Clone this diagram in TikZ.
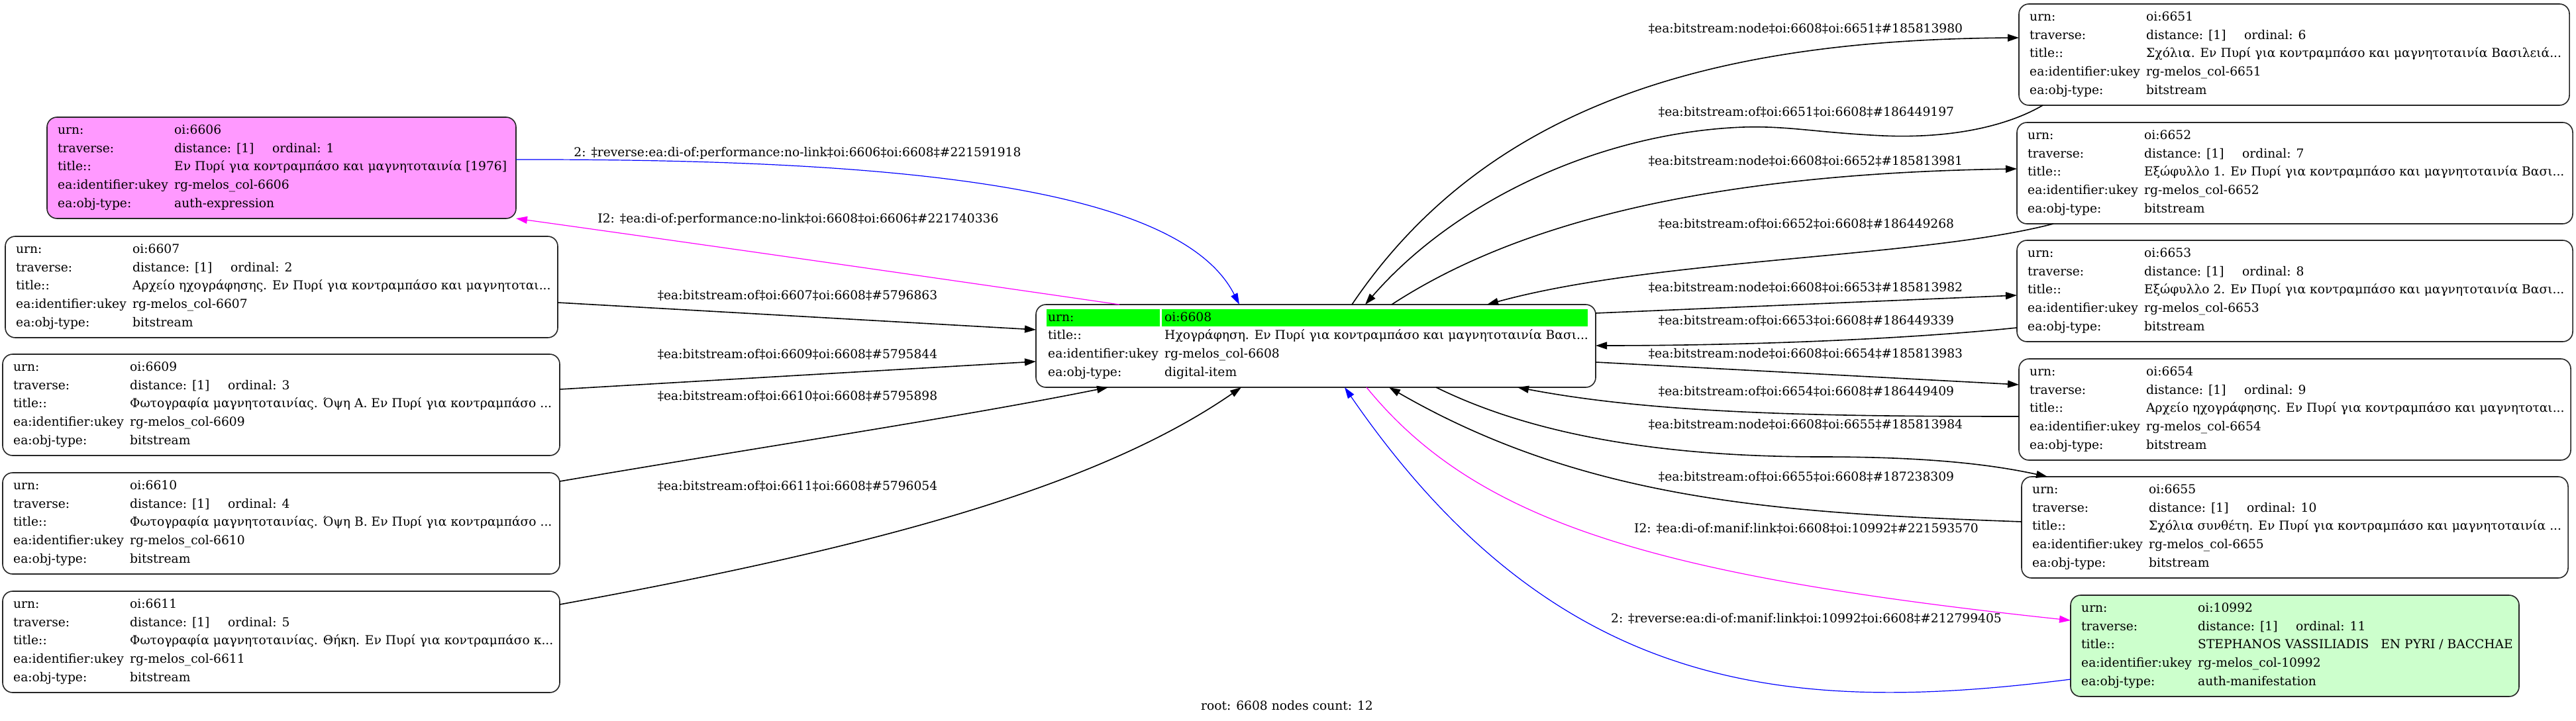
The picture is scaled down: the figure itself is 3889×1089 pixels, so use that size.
\documentclass[tikz,border=0pt]{standalone}
\usepackage{fontspec}
\setmainfont{DejaVu Serif}
\usetikzlibrary{arrows.meta}
\definecolor{pinkfill}{HTML}{FF99FF}
\definecolor{greenfill}{HTML}{CCFFCC}
\definecolor{hilite}{HTML}{00FF00}
\definecolor{mag}{HTML}{FF00FF}
\definecolor{blu}{HTML}{0000FF}
\tikzset{
 ebox/.style={draw=black!85, line width=1.6pt, rounded corners=15pt, inner sep=0pt, outer sep=0pt},
 txt/.style={inner sep=0pt, anchor=west, text height=13pt, text depth=4pt, font=\fontsize{18.67}{22}\selectfont},
 lbl/.style={inner sep=0pt, text height=13pt, text depth=4pt, font=\fontsize{18.67}{22}\selectfont},
 edg/.style={line width=1.6pt, -{Triangle[length=17pt,width=11pt]}},
 eb/.style={edg, draw=blu, line width=1.2pt},
 em/.style={edg, draw=mag, line width=1.2pt},
}
% id, x, y, width, style, ordinal, title, type
\newcommand\entity[8]{%
 \node[ebox,#5,minimum width=#4pt,minimum height=153pt,anchor=north west] (n#1) at (#2,#3) {};
 \pgfmathsetmacro\lx{#2+16}%
 \pgfmathsetmacro\vx{#2+192}%
 \node[txt] (n#1-k1) at (\lx,#3+21) {urn:};
 \node[txt] (n#1-v1) at (\vx,#3+21) {oi:#1};
 \node[txt] (n#1-k2) at (\lx,#3+48.7) {traverse:};
 \node[txt] (n#1-v2) at (\vx,#3+48.7) {\makebox[148pt][l]{distance: [1]}ordinal: #6};
 \node[txt] (n#1-k3) at (\lx,#3+76.4) {title::};
 \node[txt] (n#1-v3) at (\vx,#3+76.4) {#7};
 \node[txt] (n#1-k4) at (\lx,#3+104.1) {ea:identifier:ukey};
 \node[txt] (n#1-v4) at (\vx,#3+104.1) {rg-melos\_col-#1};
 \node[txt] (n#1-k5) at (\lx,#3+131.8) {ea:obj-type:};
 \node[txt] (n#1-v5) at (\vx,#3+131.8) {#8};
}
\begin{document}
\begin{tikzpicture}[x=1pt,y=-1pt]
\useasboundingbox (0,0) rectangle (3889,1089);

% left column
\entity{6606}{71}{177}{708}{fill=pinkfill}{1}{Εν Πυρί για κοντραμπάσο και μαγνητοταινία [1976]}{auth-expression}
\entity{6607}{8}{357}{834}{}{2}{Αρχείο ηχογράφησης. Εν Πυρί για κοντραμπάσο και μαγνητοται...}{bitstream}
\entity{6609}{4}{535}{841}{}{3}{Φωτογραφία μαγνητοταινίας. Όψη Α. Εν Πυρί για κοντραμπάσο ...}{bitstream}
\entity{6610}{4}{714}{841}{}{4}{Φωτογραφία μαγνητοταινίας. Όψη Β. Εν Πυρί για κοντραμπάσο ...}{bitstream}
\entity{6611}{4}{893}{841}{}{5}{Φωτογραφία μαγνητοταινίας. Θήκη. Εν Πυρί για κοντραμπάσο κ...}{bitstream}

% right column
\entity{6651}{3048}{6}{831}{}{6}{Σχόλια. Εν Πυρί για κοντραμπάσο και μαγνητοταινία Βασιλειά...}{bitstream}
\entity{6652}{3045}{185}{839}{}{7}{Εξώφυλλο 1. Εν Πυρί για κοντραμπάσο και μαγνητοταινία Βασι...}{bitstream}
\entity{6653}{3045}{363}{839}{}{8}{Εξώφυλλο 2. Εν Πυρί για κοντραμπάσο και μαγνητοταινία Βασι...}{bitstream}
\entity{6654}{3048}{542}{833}{}{9}{Αρχείο ηχογράφησης. Εν Πυρί για κοντραμπάσο και μαγνητοται...}{bitstream}
\entity{6655}{3052}{720}{825}{}{10}{Σχόλια συνθέτη. Εν Πυρί για κοντραμπάσο και μαγνητοταινία ...}{bitstream}
\entity{10992}{3126}{899}{677}{fill=greenfill}{11}{STEPHANOS VASSILIADIS\ \ \ EN PYRI / BACCHAE}{auth-manifestation}

% centre node
\node[ebox,minimum width=845pt,minimum height=125pt,anchor=north west] (n6608) at (1564,460) {};
\fill[hilite] (1580,467) rectangle (1751,493);
\fill[hilite] (1754,467) rectangle (2397,493);
\node[txt] (n6608-k1) at (1582,480.5) {urn:};
\node[txt] (n6608-v1) at (1758,480.5) {oi:6608};
\node[txt] (n6608-k2) at (1582,508.2) {title::};
\node[txt] (n6608-v2) at (1758,508.2) {Ηχογράφηση. Εν Πυρί για κοντραμπάσο και μαγνητοταινία Βασι...};
\node[txt] (n6608-k3) at (1582,536) {ea:identifier:ukey};
\node[txt] (n6608-v3) at (1758,536) {rg-melos\_col-6608};
\node[txt] (n6608-k4) at (1582,563.6) {ea:obj-type:};
\node[txt] (n6608-v4) at (1758,563.6) {digital-item};

% left edges
\draw[eb] ([yshift=-64]n6606.north east) .. controls (1350,240) and (1780,280) .. ([xshift=307]n6608.north west);
\draw[em] ([xshift=126]n6608.north west) .. controls (1400,418) and (1080,372) .. (n6606.south east);
\draw[edg] ([yshift=-100]n6607.north east) -- ([yshift=-38]n6608.north west);
\draw[edg] ([yshift=-53]n6609.north east) -- ([yshift=-86]n6608.north west);
\draw[edg] ([yshift=-13]n6610.north east) .. controls (1150,675) and (1450,630) .. ([xshift=109]n6608.south west);
\draw[edg] ([yshift=-20]n6611.north east) .. controls (1300,830) and (1650,740) .. ([xshift=310]n6608.south west);

% right edges
\draw[edg] ([xshift=477]n6608.north west) .. controls (2250,150) and (2600,60) .. ([yshift=-51]n6651.north west);
\draw[edg] ([xshift=36]n6651.south west) .. controls (3040,185) and (2960,210) .. (2842,205) .. controls (2740,200) and (2700,190) .. (2632,192) .. controls (2420,200) and (2200,300) .. ([xshift=497]n6608.north west);
\draw[edg] ([xshift=537]n6608.north west) .. controls (2300,330) and (2600,262) .. ([yshift=-70]n6652.north west);
\draw[edg] ([xshift=55]n6652.south west) .. controls (2900,390) and (2500,390) .. ([xshift=681]n6608.north west);
\draw[edg] ([yshift=-13]n6608.north east) -- ([yshift=-83]n6653.north west);
\draw[edg] ([yshift=-132]n6653.north west) .. controls (2850,515) and (2600,522) .. ([yshift=-62]n6608.north east);
\draw[edg] ([yshift=-87]n6608.north east) -- ([yshift=-39]n6654.north west);
\draw[edg] ([yshift=-87]n6654.north west) .. controls (2750,629) and (2500,625) .. ([xshift=727]n6608.south west);
\draw[edg] ([xshift=604]n6608.south west) .. controls (2320,660) and (2520,690) .. (2750,690) .. controls (2900,690) and (3000,700) .. ([xshift=39]n6655.north west);
\draw[edg] ([yshift=-68]n6655.north west) .. controls (2700,775) and (2400,760) .. ([xshift=533]n6608.south west);
\draw[em] ([xshift=499]n6608.south west) .. controls (2230,790) and (2500,870) .. ([yshift=-38]n10992.north west);
\draw[eb] ([yshift=-127]n10992.north west) .. controls (2700,1080) and (2350,1050) .. ([xshift=466]n6608.south west);

% edge labels
\node[lbl] (l1) at (1204,232) {2: ‡reverse:ea:di-of:performance:no-link‡oi:6606‡oi:6608‡\#221591918};
\node[lbl] (l2) at (1205,332) {I2: ‡ea:di-of:performance:no-link‡oi:6608‡oi:6606‡\#221740336};
\node[lbl] (l3) at (1204,448) {‡ea:bitstream:of‡oi:6607‡oi:6608‡\#5796863};
\node[lbl] (l4) at (1204,537) {‡ea:bitstream:of‡oi:6609‡oi:6608‡\#5795844};
\node[lbl] (l5) at (1204,600) {‡ea:bitstream:of‡oi:6610‡oi:6608‡\#5795898};
\node[lbl] (l6) at (1204,736) {‡ea:bitstream:of‡oi:6611‡oi:6608‡\#5796054};
\node[lbl] (r1) at (2726,45) {‡ea:bitstream:node‡oi:6608‡oi:6651‡\#185813980};
\node[lbl] (r2) at (2727,171) {‡ea:bitstream:of‡oi:6651‡oi:6608‡\#186449197};
\node[lbl] (r3) at (2726,245) {‡ea:bitstream:node‡oi:6608‡oi:6652‡\#185813981};
\node[lbl] (r4) at (2727,340) {‡ea:bitstream:of‡oi:6652‡oi:6608‡\#186449268};
\node[lbl] (r5) at (2726,436) {‡ea:bitstream:node‡oi:6608‡oi:6653‡\#185813982};
\node[lbl] (r6) at (2727,486) {‡ea:bitstream:of‡oi:6653‡oi:6608‡\#186449339};
\node[lbl] (r7) at (2726,536) {‡ea:bitstream:node‡oi:6608‡oi:6654‡\#185813983};
\node[lbl] (r8) at (2727,593) {‡ea:bitstream:of‡oi:6654‡oi:6608‡\#186449409};
\node[lbl] (r9) at (2726,643) {‡ea:bitstream:node‡oi:6608‡oi:6655‡\#185813984};
\node[lbl] (r10) at (2727,722) {‡ea:bitstream:of‡oi:6655‡oi:6608‡\#187238309};
\node[lbl] (r11) at (2727,800) {I2: ‡ea:di-of:manif:link‡oi:6608‡oi:10992‡\#221593570};
\node[lbl] (r12) at (2727,936) {2: ‡reverse:ea:di-of:manif:link‡oi:10992‡oi:6608‡\#212799405};

\node[lbl] (footer) at (1943,1068) {root: 6608 nodes count: 12};
\end{tikzpicture}
\end{document}
